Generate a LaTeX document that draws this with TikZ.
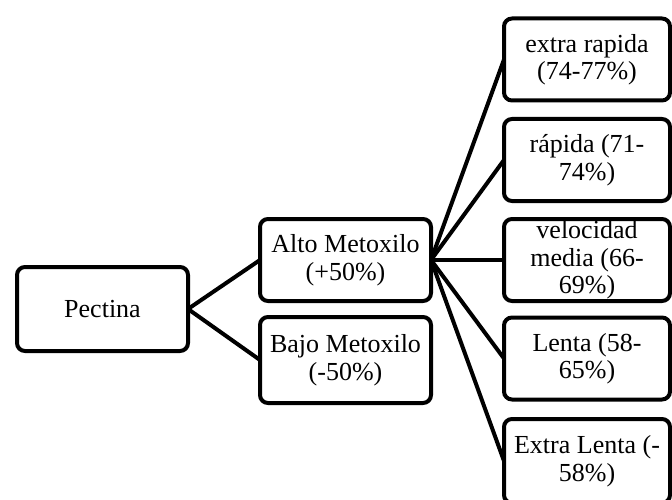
\documentclass[tikz,border=0pt]{standalone}
\usepackage{fontspec}
\setmainfont{Liberation Serif}
\begin{document}
\begin{tikzpicture}[x=1pt,y=-1pt,
  box/.style={draw, line width=4pt, rounded corners=8pt, align=center,
    inner sep=0pt, outer sep=0pt, fill=white,
    font=\fontsize{26}{27.5}\selectfont},
  midbox/.style={box, minimum width=171pt},
  leafbox/.style={box, minimum width=166pt, minimum height=82pt},
  link/.style={line width=4pt}]
\useasboundingbox (0,0) rectangle (672,500);

% root
\node[box, minimum width=171pt, minimum height=84pt] (pectina) at (102.5,309) {Pectina};

% second level
\node[midbox, minimum height=82pt] (alto) at (345.5,260) {Alto Metoxilo\\(+50\%)};
\node[midbox, minimum height=86pt] (bajo) at (345.5,360) {Bajo Metoxilo\\(-50\%)};

% leaves under Alto Metoxilo
\node[leafbox] (r1) at (587,59.5) {extra rapida\\(74-77\%)};
\node[leafbox] (r2) at (587,160) {rápida (71-\\74\%)};
\node[leafbox] (r3) at (587,260) {velocidad\\media (66-\\69\%)};
\node[leafbox] (r4) at (587,358.5) {Lenta (58-\\65\%)};
\node[leafbox, minimum height=84pt] (r5) at (587,461) {Extra Lenta (-\\58\%)};

% connectors
\draw[link] (pectina.east) -- (alto.west);
\draw[link] (pectina.east) -- (bajo.west);
\foreach \r in {r1,r2,r3,r4,r5}
  \draw[link] (alto.east) -- (\r.west);
\end{tikzpicture}
\end{document}
